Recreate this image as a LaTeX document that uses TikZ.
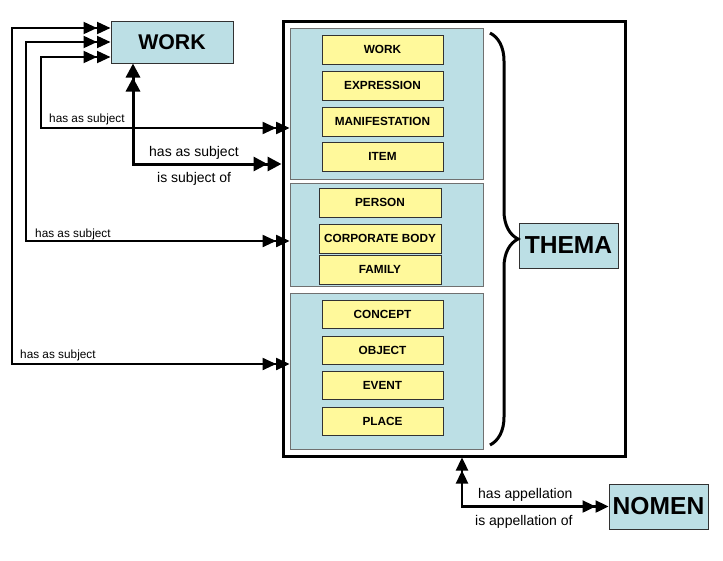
\documentclass[tikz,border=0pt]{standalone}
\usepackage{fontspec}
\setmainfont{Liberation Sans}
\usetikzlibrary{arrows.meta,decorations.pathreplacing}
\definecolor{lblue}{RGB}{188,223,229}
\definecolor{lyel}{RGB}{255,249,155}
\definecolor{bord}{RGB}{50,50,50}
\begin{document}
\begin{tikzpicture}[x=1pt,y=-1pt,
  bluebox/.style={draw=bord, line width=1pt, fill=lblue, inner sep=0pt},
  grpbox/.style={draw=bord!70, line width=0.8pt, fill=lblue, inner sep=0pt},
  yelbox/.style={draw=bord, line width=1pt, fill=lyel, inner sep=0pt, font=\bfseries\fontsize{11.8}{14}\selectfont},
  bigtxt/.style={font=\bfseries\fontsize{24.6}{28}\selectfont},
  smalllbl/.style={anchor=base west, inner sep=0pt, font=\fontsize{11.8}{14}\selectfont},
  biglbl/.style={anchor=base west, inner sep=0pt, font=\fontsize{14}{17}\selectfont},
  thinconn/.style={line width=2pt, {Triangle[length=13.5pt,width=12pt]Triangle[length=13.5pt,width=12pt]}-{Triangle[length=13.5pt,width=12pt]Triangle[length=13.5pt,width=12pt]}},
  thickconn/.style={line width=3pt, {Triangle[length=14pt,width=14pt]Triangle[length=14pt,width=14pt]}-{Triangle[length=14pt,width=14pt]Triangle[length=14pt,width=14pt]}},
  medconn/.style={line width=2.4pt, {Triangle[length=13pt,width=12pt]Triangle[length=13pt,width=12pt]}-{Triangle[length=13pt,width=12pt]Triangle[length=13pt,width=12pt]}}
]
\useasboundingbox (0,0) rectangle (723,560);

% WORK box
\node[bluebox, minimum width=122pt, minimum height=42pt, font=\bfseries\fontsize{21.3}{25}\selectfont] (work) at (172,42) {WORK};

% outer box
\node[draw=black, line width=3pt, minimum width=342pt, minimum height=435pt, inner sep=0pt] (outer) at (454,238.5) {};

% groups
\node[grpbox, minimum width=193pt, minimum height=151pt] (g1) at (386.5,103.5) {};
\node[grpbox, minimum width=193pt, minimum height=103pt] (g2) at (386.5,234.5) {};
\node[grpbox, minimum width=193pt, minimum height=156pt] (g3) at (386.5,371) {};

% yellow boxes group 1
\node[yelbox, minimum width=121pt, minimum height=29pt] (y1) at (382.5,49.5) {WORK};
\node[yelbox, minimum width=121pt, minimum height=29pt] (y2) at (382.5,85.5) {EXPRESSION};
\node[yelbox, minimum width=121pt, minimum height=29pt] (y3) at (382.5,121.5) {MANIFESTATION};
\node[yelbox, minimum width=121pt, minimum height=29pt] (y4) at (382.5,156.5) {ITEM};
% group 2
\node[yelbox, minimum width=122pt, minimum height=29pt] (y5) at (380,202.5) {PERSON};
\node[yelbox, minimum width=122pt, minimum height=29pt] (y6) at (380,238.5) {CORPORATE BODY};
\node[yelbox, minimum width=122pt, minimum height=29pt] (y7) at (380,269.5) {FAMILY};
% group 3
\node[yelbox, minimum width=121pt, minimum height=28pt] (y8) at (382.5,314) {CONCEPT};
\node[yelbox, minimum width=121pt, minimum height=28pt] (y9) at (382.5,350) {OBJECT};
\node[yelbox, minimum width=121pt, minimum height=28pt] (y10) at (382.5,385) {EVENT};
\node[yelbox, minimum width=121pt, minimum height=28pt] (y11) at (382.5,421) {PLACE};

% THEMA
\node[bluebox, bigtxt, minimum width=99pt, minimum height=45pt] (thema) at (568.5,245.5) {THEMA};
% NOMEN
\node[bluebox, bigtxt, minimum width=99pt, minimum height=45pt] (nomen) at (658.5,506.5) {NOMEN};

% brace
\draw[line width=3pt, decorate, decoration={brace, amplitude=28pt}] (490,33) -- (490,445);

% has as subject connectors
\draw[thinconn] (work.west |- 0,28) -- (12,28) -- (12,364) -- (g3.west |- 0,364);
\draw[thinconn] (work.west |- 0,42) -- (26,42) -- (26,241) -- (g2.west |- 0,241);
\draw[thinconn] (work.west |- 0,57) -- (41,57) -- (41,128) -- (g1.west |- 0,128);

\node[smalllbl] (l3) at (49,122) {has as subject};
\node[smalllbl] (l2) at (35,237) {has as subject};
\node[smalllbl] (l1) at (20,358) {has as subject};

% thick bidirectional
\draw[thickconn] (133,0 |- work.south) |- (outer.west |- 0,164);
\node[biglbl] (hs) at (149,156) {has as subject};
\node[biglbl] (iso) at (157,182) {is subject of};

% appellation
\draw[medconn] (462,0 |- outer.south) |- (nomen.west);
\node[biglbl] (ha) at (478,498) {has appellation};
\node[biglbl] (iao) at (475,525) {is appellation of};
\end{tikzpicture}
\end{document}
